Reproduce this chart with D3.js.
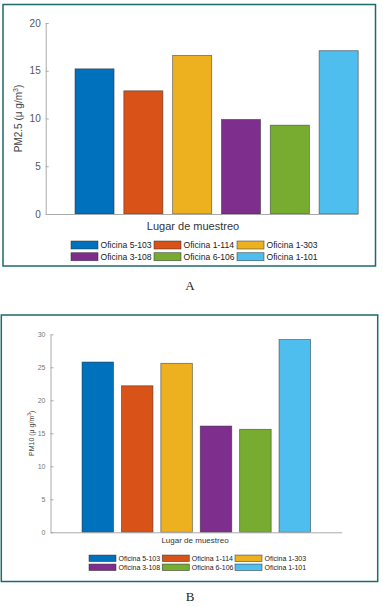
<!DOCTYPE html>
<html>
<head>
<meta charset="utf-8">
<script src="https://cdn.jsdelivr.net/npm/d3@7"></script>
<style>
  body { margin: 0; background: #fff; }
  svg { display: block; }
</style>
</head>
<body>
<div id="chart"></div>
<script>
var categories = ["Oficina 5-103", "Oficina 1-114", "Oficina 1-303", "Oficina 3-108", "Oficina 6-106", "Oficina 1-101"];
var pm25 = [15.2, 12.9, 16.6, 9.9, 9.3, 17.1];
var pm10 = [25.8, 22.2, 25.6, 16.1, 15.6, 29.2];
var yTicksA = [0, 5, 10, 15, 20];
var yTicksB = [0, 5, 10, 15, 20, 25, 30];
var colors = ["#0072BD", "#D95319", "#EDB120", "#7E2F8E", "#77AC30", "#4DBEEE"];

var svg = d3.select("#chart")
    .append("svg")
    .attr("width", 383)
    .attr("height", 606);

// panel layouts
var panels = [
    {
        values: pm25, ticks: yTicksA, yMax: 20, letter: "A",
        box: [3, 4.5, 372.5, 261.5],
        xDom: [0, 6.39], xRange: [45.7, 357.7],
        yRange: [214, 23],
        yLabel: "PM2.5 (\u03bc g/m", yLabelX: 22, tickFont: 10, tickColor: "#555",
        xLabelX: 193, xLabelY: 230, xLabelFont: 11,
        legX: [71, 154, 237], legY: [245, 256.7], swW: 27, swH: 8, legFont: 8.6,
        letterY: 290
    },
    {
        values: pm10, ticks: yTicksB, yMax: 30, letter: "B",
        box: [1.3, 315, 376.4, 266.5],
        xDom: [-0.2, 7.19], xRange: [50.5, 341.7],
        yRange: [532.3, 334.3],
        yLabel: "PM10 (\u03bc g/m", yLabelX: 34, tickFont: 7, tickColor: "#777",
        xLabelX: 195, xLabelY: 542.5, xLabelFont: 8,
        legX: [89, 162.3, 235], legY: [558.3, 567.3], swW: 27, swH: 6.5, legFont: 7,
        letterY: 601
    }
];

panels.forEach(function(p) {
    var g = svg.append("g");

    // frame
    g.append("rect")
        .attr("x", p.box[0]).attr("y", p.box[1])
        .attr("width", p.box[2]).attr("height", p.box[3])
        .attr("fill", "none")
        .attr("stroke", "#1d6a6c")
        .attr("stroke-width", 1.5);

    var xScale = d3.scaleLinear().domain(p.xDom).range(p.xRange);
    var yScale = d3.scaleLinear().domain([0, p.yMax]).range(p.yRange);
    var bw = (xScale(1) - xScale(0)) * 0.8;

    // bars
    g.selectAll(".bar")
        .data(p.values)
        .enter()
        .append("rect")
        .attr("x", function(d, i) { return xScale(i + 1) - bw / 2; })
        .attr("y", function(d) { return yScale(d); })
        .attr("width", bw)
        .attr("height", function(d) { return yScale(0) - yScale(d); })
        .attr("fill", function(d, i) { return colors[i]; })
        .attr("stroke", "#2a2a2a")
        .attr("stroke-opacity", 0.6)
        .attr("stroke-width", 0.8);

    // axes
    var yAxis = d3.axisLeft(yScale).tickValues(p.ticks).tickSizeInner(-3).tickSizeOuter(0).tickPadding(5);
    var ya = g.append("g")
        .attr("transform", "translate(" + p.xRange[0] + ",0)")
        .call(yAxis);
    ya.select(".domain").attr("stroke", "#aaa");
    ya.selectAll(".tick line").attr("stroke", "#aaa");
    ya.selectAll(".tick text")
        .attr("fill", p.tickColor)
        .attr("font-family", "Liberation Sans, Arial, sans-serif")
        .attr("font-size", p.tickFont);

    var xAxis = d3.axisBottom(xScale).tickValues([]).tickSizeOuter(0);
    var xa = g.append("g")
        .attr("transform", "translate(0," + p.yRange[0] + ")")
        .call(xAxis);
    xa.select(".domain").attr("stroke", "#aaa");

    // y label
    var yl = g.append("text")
        .attr("transform", "translate(" + p.yLabelX + "," + ((p.yRange[0] + p.yRange[1]) / 2) + ") rotate(-90)")
        .attr("text-anchor", "middle")
        .attr("font-family", "Liberation Sans, Arial, sans-serif")
        .attr("font-size", p.tickFont)
        .attr("fill", "#444");
    yl.append("tspan").text(p.yLabel);
    yl.append("tspan").attr("dy", -p.tickFont * 0.4).attr("font-size", p.tickFont * 0.7).text("3");
    yl.append("tspan").attr("dy", p.tickFont * 0.4).text(")");

    // x label
    g.append("text")
        .attr("x", p.xLabelX).attr("y", p.xLabelY)
        .attr("text-anchor", "middle")
        .attr("font-family", "Liberation Sans, Arial, sans-serif")
        .attr("font-size", p.xLabelFont)
        .attr("fill", "#333")
        .text("Lugar de muestreo");

    // legend
    var leg = g.selectAll(".leg")
        .data(categories)
        .enter()
        .append("g")
        .attr("transform", function(d, i) {
            return "translate(" + p.legX[i % 3] + "," + p.legY[Math.floor(i / 3)] + ")";
        });
    leg.append("rect")
        .attr("x", 0).attr("y", -p.swH / 2)
        .attr("width", p.swW).attr("height", p.swH)
        .attr("fill", function(d, i) { return colors[i]; })
        .attr("stroke", "#2a2a2a")
        .attr("stroke-opacity", 0.7)
        .attr("stroke-width", 0.7);
    leg.append("text")
        .attr("x", p.swW + 2.5)
        .attr("dy", "0.35em")
        .attr("font-family", "Liberation Sans, Arial, sans-serif")
        .attr("font-size", p.legFont)
        .attr("fill", "#222")
        .text(function(d) { return d; });

    // panel letter
    g.append("text")
        .attr("x", 190).attr("y", p.letterY)
        .attr("text-anchor", "middle")
        .attr("font-family", "Liberation Serif, DejaVu Serif, serif")
        .attr("font-size", 13)
        .attr("fill", "#222")
        .text(p.letter);
});
</script>
</body>
</html>
